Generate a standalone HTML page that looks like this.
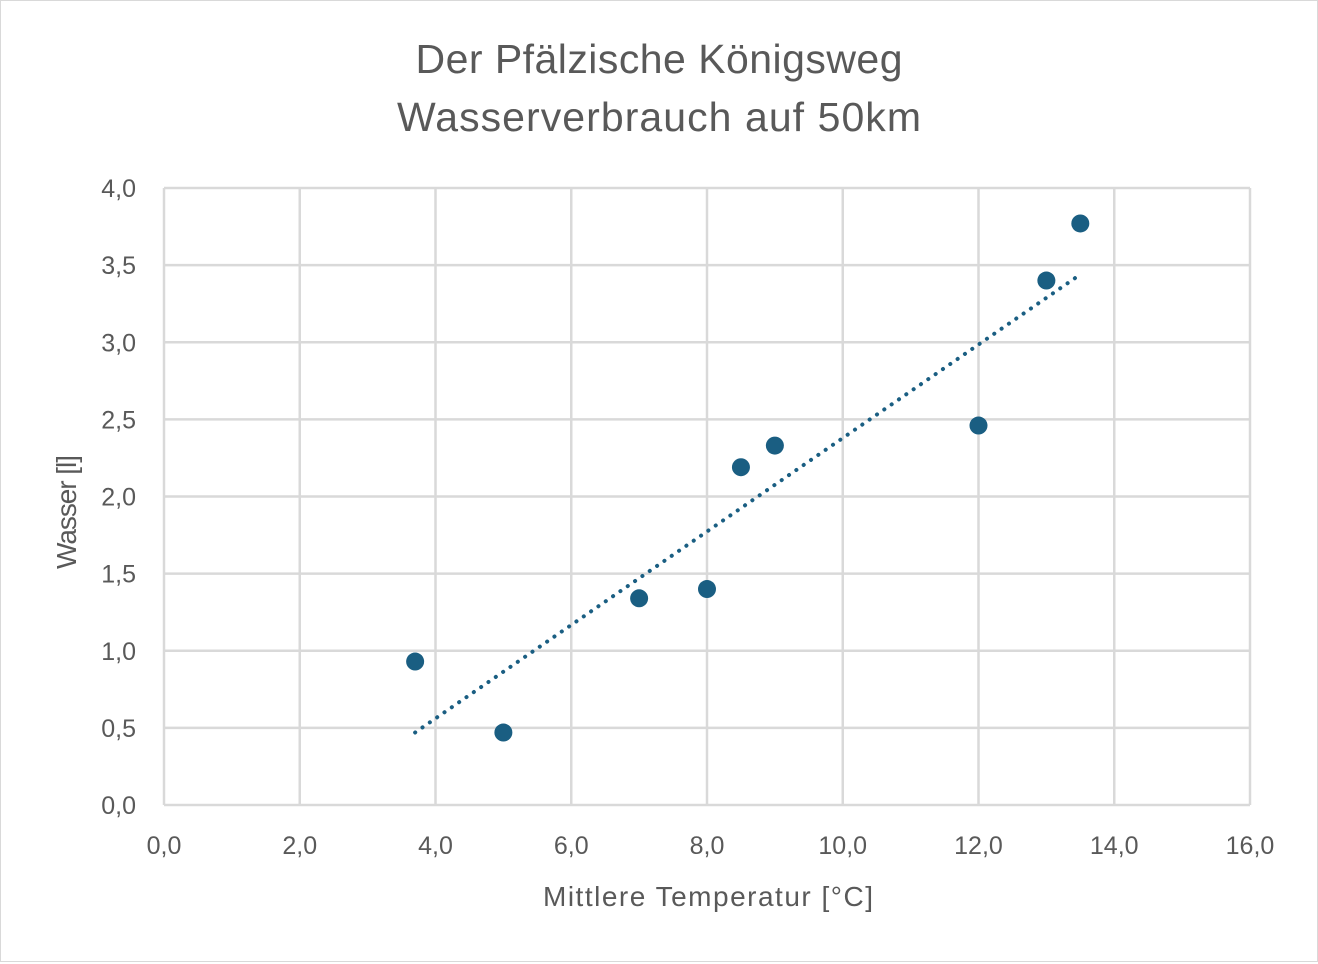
<!DOCTYPE html>
<html><head><meta charset="utf-8"><style>
body{margin:0;background:#fff;}
svg{display:block;font-family:"Liberation Sans",sans-serif;}
</style></head><body>
<svg id="c" width="1318" height="964">
<rect x="0.5" y="0.5" width="1317" height="961" fill="#fff" stroke="#d9d9d9"/>
<text x="659" y="73" text-anchor="middle" font-size="41" fill="#595959" textLength="487">Der Pfälzische Königsweg</text>
<text x="659" y="131" text-anchor="middle" font-size="41" fill="#595959" textLength="524">Wasserverbrauch auf 50km</text>
<g id="grid"></g><g id="ticks"></g><g id="marks"></g>
<text x="708" y="906" text-anchor="middle" font-size="28" fill="#595959" textLength="330">Mittlere Temperatur [°C]</text>
<text transform="translate(76,512) rotate(-90)" text-anchor="middle" font-size="28" fill="#595959" textLength="114">Wasser  [l]</text>
</svg>
<script>
const temps=[3.7,5.0,7.0,8.0,8.5,9.0,12.0,13.0,13.5];
const water=[0.93,0.47,1.34,1.40,2.19,2.33,2.46,3.40,3.77];
const xTicks=[0,2,4,6,8,10,12,14,16];
const yTicks=[0,0.5,1,1.5,2,2.5,3,3.5,4];
const X0=164,X1=1250,Y0=805,Y1=188;
const sx=v=>X0+(v-0)/16*(X1-X0);
const sy=v=>Y0-(v-0)/4*(Y0-Y1);
const NS="http://www.w3.org/2000/svg";
function mk(t,a,p){const e=document.createElementNS(NS,t);for(const k in a)e.setAttribute(k,a[k]);p.appendChild(e);return e;}
const grid=document.getElementById('grid'),ticks=document.getElementById('ticks'),marks=document.getElementById('marks');
xTicks.forEach(v=>{const l=mk('line',{x1:sx(v),x2:sx(v),y1:Y1,y2:Y0,stroke:'#d9d9d9','stroke-width':2.5},grid);


const t=mk('text',{x:sx(v),y:854,'text-anchor':'middle','font-size':25,fill:'#595959'},ticks);t.textContent=v.toFixed(1).replace('.',',');

});
yTicks.forEach(v=>{const l=mk('line',{x1:X0,x2:X1,y1:sy(v),y2:sy(v),stroke:'#d9d9d9','stroke-width':2.5},grid);


const t=mk('text',{x:136,y:sy(v)+9,'text-anchor':'end','font-size':25,fill:'#595959'},ticks);t.textContent=v.toFixed(1).replace('.',',');

});
const n=temps.length,mx=temps.reduce((a,b)=>a+b)/n,my=water.reduce((a,b)=>a+b)/n;
let sxy=0,sxx=0;temps.forEach((x,i)=>{sxy+=(x-mx)*(water[i]-my);sxx+=(x-mx)**2;});
const m=sxy/sxx,b=my-m*mx,xa=Math.min(...temps),xb=Math.max(...temps);
const tl=mk('line',{x1:sx(xa),y1:sy(m*xa+b),x2:sx(xb),y2:sy(m*xb+b),stroke:'#1a5e82','stroke-width':4,'stroke-dasharray':'0.1 8.8','stroke-linecap':'round'},marks);


temps.forEach((x,i)=>{const c=mk('circle',{cx:sx(x),cy:sy(water[i]),r:9,fill:'#1a5e82'},marks);

});
</script>
</body></html>
